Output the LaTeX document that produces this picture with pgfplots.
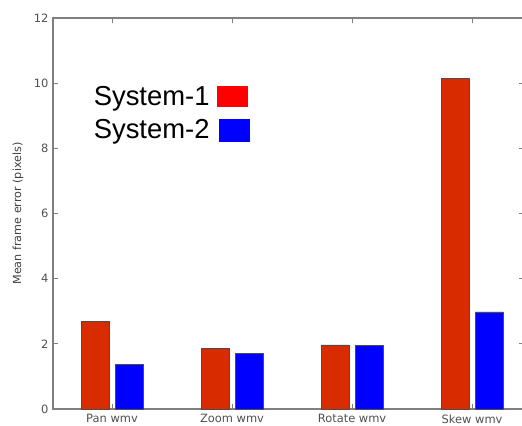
\documentclass[border=0pt]{standalone}
\usepackage{pgfplots}
\pgfplotsset{compat=1.18}
\usepackage{fontspec}
\setmainfont{Liberation Sans}
\newfontfamily\smallfont{DejaVu Sans}
\definecolor{barred}{RGB}{217,43,0}
\definecolor{tickgray}{RGB}{80,80,80}
\begin{document}
\begin{tikzpicture}[x=1bp,y=1bp]
\useasboundingbox (0,0) rectangle (522,425);
\clip (0,0) rectangle (522,425);
\begin{axis}[
  at={(53bp,16bp)}, anchor=south west,
  scale only axis, width=471bp, height=391bp,
  xmin=-0.4917, xmax=3.433, ymin=0, ymax=12,
  xtick={0,1,2,3},
  xticklabels={Pan wmv,Zoom wmv,Rotate wmv,Skew wmv},
  ytick={0,2,4,6,8,10,12},
  /pgf/number format/assume math mode=true,
  tick label style={font=\smallfont\fontsize{11.5}{13}\selectfont, text=tickgray},
  yticklabel style={xshift=-1bp},
  xticklabel style={yshift=-2bp},
  ylabel={Mean frame error (pixels)},
  ylabel style={font=\smallfont\fontsize{11.2}{13}\selectfont, text=black!75, at={(axis description cs:-0.0743,0.5)}, anchor=center},
  axis line style={draw=gray, line width=1.2bp},
  tick style={draw=gray, line width=0.8bp},
  major tick length=5bp,
  tick align=inside,
  legend plot pos=right,
  legend cell align=left,
  legend style={at={(0.082,0.832)}, anchor=north west, draw=none, fill=none,
    font=\fontsize{27.5}{30}\selectfont, row sep=9bp, inner sep=0pt},
]
\addlegendimage{legend image code/.code={\path (0bp,0bp); \fill[red] (5bp,-10bp) rectangle (35bp,10bp);}}
\addlegendentry{System-1}
\addlegendimage{legend image code/.code={\path (0bp,0bp); \fill[blue] (7bp,-11bp) rectangle (37bp,11bp);}}
\addlegendentry{System-2}
\addplot[ybar, forget plot, bar width=0.233, bar shift=-0.1417, fill=barred, draw=black!70, line width=0.6bp]
  coordinates {(0,2.68) (1,1.85) (2,1.97) (3,10.15)};
\addplot[ybar, forget plot, bar width=0.233, bar shift=0.1417, fill=blue, draw=black!70, line width=0.6bp]
  coordinates {(0,1.38) (1,1.70) (2,1.94) (3,2.98)};
\end{axis}
\end{tikzpicture}
\end{document}
